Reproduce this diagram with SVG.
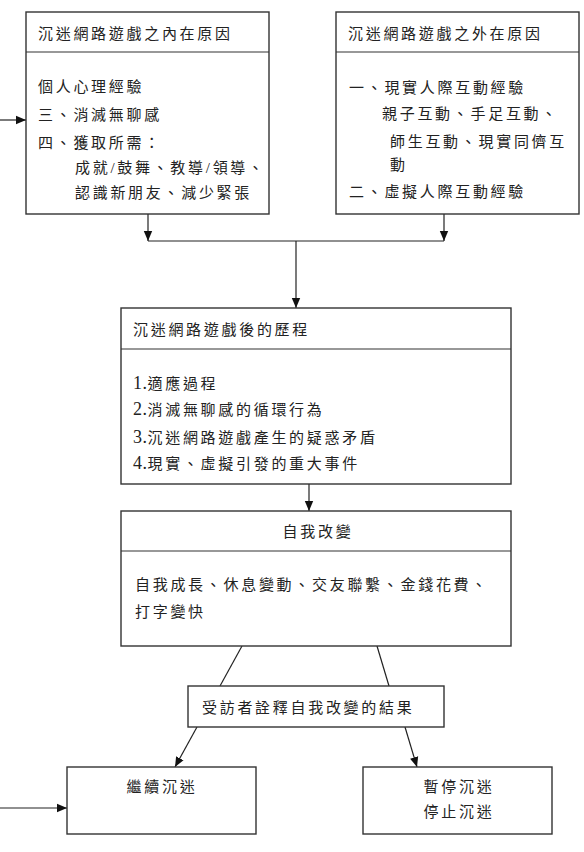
<svg xmlns="http://www.w3.org/2000/svg" width="584" height="852" viewBox="0 0 584 852">
<style>
.box{fill:#fff;stroke:#333;stroke-width:1.4}
.div{stroke:#333;stroke-width:1.2}
.t{font-family:"Liberation Serif","Noto Sans CJK TC","Noto Sans CJK SC",serif;font-size:15px;letter-spacing:2.7px;fill:#222}
.d{font-size:18px;letter-spacing:0.5px}
.m{text-anchor:middle}
.c{fill:none;stroke:#222;stroke-width:1.2}
</style>
<defs>
<marker id="ah" markerWidth="10" markerHeight="10" refX="10" refY="5" orient="auto" markerUnits="userSpaceOnUse">
<path d="M0,0.8 L10,5 L0,9.2 Z" fill="#111"/>
</marker>
</defs>
<rect width="584" height="852" fill="#fff"/>
<g id="connectors">
<line class="c" x1="0" y1="120" x2="26" y2="120" marker-end="url(#ah)"/>
<line class="c" x1="148" y1="214" x2="148" y2="241" marker-end="url(#ah)"/>
<line class="c" x1="444" y1="214" x2="444" y2="241" marker-end="url(#ah)"/>
<line class="c" x1="148" y1="241" x2="444" y2="241"/>
<line class="c" x1="296" y1="241" x2="296" y2="308" marker-end="url(#ah)"/>
<line class="c" x1="309" y1="484" x2="309" y2="511" marker-end="url(#ah)"/>
<line class="c" x1="242" y1="646" x2="220" y2="686"/>
<line class="c" x1="377" y1="646" x2="389" y2="686"/>
<line class="c" x1="197" y1="727" x2="175" y2="767" marker-end="url(#ah)"/>
<line class="c" x1="405" y1="727" x2="417" y2="767" marker-end="url(#ah)"/>
<line class="c" x1="0" y1="808" x2="67" y2="808" marker-end="url(#ah)"/>
</g>
<g id="internal">
<rect class="box" x="26" y="12" width="243" height="202"/>
<line class="div" x1="26" y1="52" x2="269" y2="52"/>
<text class="t" x="38" y="39">沉迷網路遊戲之內在原因</text>
<text class="t" x="38" y="92">個人心理經驗</text>
<text class="t" x="38" y="120">三、消滅無聊感</text>
<text class="t" x="38" y="148">四、獲取所需：</text>
<text class="t" x="75" y="173">成就/鼓舞、教導/領導、</text>
<text class="t" x="75" y="198">認識新朋友、減少緊張</text>
</g>
<g id="external">
<rect class="box" x="336" y="12" width="243" height="202"/>
<line class="div" x1="336" y1="52" x2="579" y2="52"/>
<text class="t" x="348" y="39">沉迷網路遊戲之外在原因</text>
<text class="t" x="349" y="93">一、現實人際互動經驗</text>
<text class="t" x="382" y="119">親子互動、手足互動、</text>
<text class="t" x="390" y="147">師生互動、現實同儕互</text>
<text class="t" x="390" y="170">動</text>
<text class="t" x="349" y="197">二、虛擬人際互動經驗</text>
</g>
<g id="process">
<rect class="box" x="121" y="308" width="390" height="176"/>
<line class="div" x1="121" y1="349" x2="511" y2="349"/>
<text class="t" x="133" y="335">沉迷網路遊戲後的歷程</text>
<text class="t" x="133" y="389"><tspan class="d">1.</tspan>適應過程</text>
<text class="t" x="133" y="415"><tspan class="d">2.</tspan>消滅無聊感的循環行為</text>
<text class="t" x="133" y="443"><tspan class="d">3.</tspan>沉迷網路遊戲產生的疑惑矛盾</text>
<text class="t" x="133" y="469"><tspan class="d">4.</tspan>現實、虛擬引發的重大事件</text>
</g>
<g id="selfchange">
<rect class="box" x="121" y="511" width="390" height="135"/>
<line class="div" x1="121" y1="551" x2="511" y2="551"/>
<text class="t m" x="318" y="537">自我改變</text>
<text class="t" x="135" y="590">自我成長、休息變動、交友聯繫、金錢花費、</text>
<text class="t" x="135" y="617">打字變快</text>
</g>
<g id="interpret">
<rect class="box" x="188" y="686" width="256" height="41"/>
<text class="t" x="202" y="713">受訪者詮釋自我改變的結果</text>
</g>
<g id="continue">
<rect class="box" x="67" y="767" width="189" height="67"/>
<text class="t m" x="162" y="792">繼續沉迷</text>
</g>
<g id="stop">
<rect class="box" x="363" y="767" width="189" height="67"/>
<text class="t m" x="459" y="792">暫停沉迷</text>
<text class="t m" x="459" y="817">停止沉迷</text>
</g>
</svg>
